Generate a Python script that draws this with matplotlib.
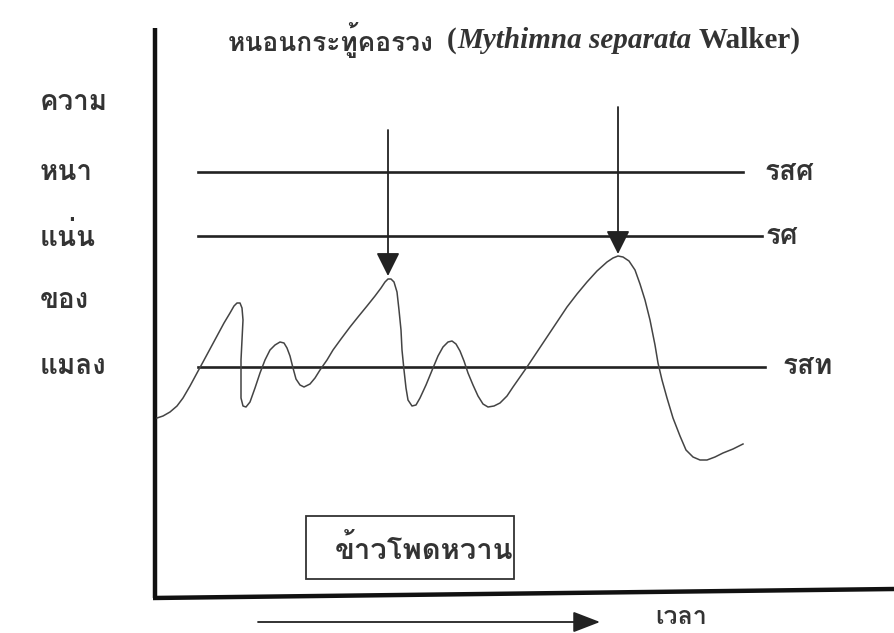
import matplotlib
matplotlib.use("Agg")
import matplotlib.pyplot as plt
from matplotlib import font_manager
from matplotlib.ft2font import FT2Font
from matplotlib.patches import Rectangle

# curve (pixel coords, y down)
curve_x = [157, 163, 170, 177, 183, 190, 197, 203, 210, 217, 224, 230, 234, 237, 240,
           242, 243, 242, 241, 241, 241, 243, 246, 250, 255, 260, 265, 270, 275, 280,
           284, 287, 290, 293, 296, 300, 304, 310, 315, 320, 327, 333, 341, 350, 358,
           367, 375, 381, 385, 388, 391, 394, 397, 399, 401, 402, 404, 406, 408, 412,
           416, 420, 426, 433, 438, 443, 448, 452, 456, 460, 464, 468, 473, 478, 483,
           488, 494, 500, 507, 513, 520, 527, 537, 547, 557, 567, 577, 587, 597, 607,
           613, 618, 623, 629, 635, 640, 645, 650, 655, 658, 662, 667, 673, 680, 686,
           693, 700, 707, 715, 723, 733, 743]
curve_y = [418, 416, 412, 406, 398, 386, 373, 362, 349, 336, 323, 313, 306, 303, 303,
           308, 320, 340, 360, 380, 398, 406, 407, 402, 388, 373, 360, 350, 345, 342,
           343, 348, 356, 368, 379, 385, 387, 384, 378, 370, 360, 350, 339, 327, 317,
           306, 296, 288, 282, 279, 279, 282, 292, 310, 330, 350, 370, 388, 400, 406,
           405, 398, 385, 368, 356, 347, 342, 341, 344, 351, 361, 373, 385, 396, 404,
           407, 406, 403, 396, 387, 377, 367, 352, 337, 322, 307, 294, 282, 271, 262,
           258, 256, 257, 261, 270, 284, 300, 320, 345, 363, 380, 398, 418, 436, 450,
           457, 460, 460, 457, 453, 449, 444]

# threshold lines: label, y level, x start, x end
levels = ["รสศ", "รศ", "รสท"]
level_y = [172, 236, 367]
level_x0 = [198, 198, 198]
level_x1 = [743, 762, 765]
label_x = [765, 766, 783]

# arrows pointing at the peaks: x, top, tip
arrow_x = [388, 618]
arrow_top = [130, 107]
arrow_tip = [276, 254]

ylabel_words = ["ความ", "หนา", "แน่น", "ของ", "แมลง"]
ylabel_y = [103, 172, 237, 300, 366]


def thai_font():
    for f in font_manager.fontManager.ttflist:
        try:
            if 0x0E01 in FT2Font(f.fname).get_charmap():
                return f.name
        except Exception:
            pass
    return "DejaVu Sans"


thai = thai_font()
plt.rcParams["font.family"] = [thai, "DejaVu Sans"]
ink = "#333333"

fig = plt.figure(figsize=(8.94, 6.33), dpi=100)
ax = fig.add_axes([0, 0, 1, 1])
ax.set_xlim(0, 894)
ax.set_ylim(633, 0)
ax.axis("off")

# axes drawn by hand (slightly tilted x axis like the scan)
ax.plot([155, 155], [28, 598], color="#111111", lw=3.2, solid_capstyle="butt")
ax.plot([153, 894], [598, 589], color="#111111", lw=3.2, solid_capstyle="butt")

for lab, y, x0, x1, lx in zip(levels, level_y, level_x0, level_x1, label_x):
    ax.plot([x0, x1], [y, y], color="#222222", lw=1.9)
    ax.text(lx, y, lab, fontsize=20, fontweight="bold", color=ink,
            ha="left", va="center")

ax.plot(curve_x, curve_y, color="#444444", lw=1.1)

for x, y0, y1 in zip(arrow_x, arrow_top, arrow_tip):
    ax.annotate("", xy=(x, y1), xytext=(x, y0),
                arrowprops=dict(arrowstyle="-|>,head_length=0.6,head_width=0.3",
                                mutation_scale=24, lw=1.3, color="#222222",
                                shrinkA=0, shrinkB=0))

for w, y in zip(ylabel_words, ylabel_y):
    ax.text(40, y, w, fontsize=20, fontweight="bold", color=ink,
            ha="left", va="center")

# title, pieces placed one after another
renderer = fig.canvas.get_renderer()
pieces = [("หนอนกระทู้คอรวง", dict(fontsize=19), 0),
          ("(", dict(fontsize=21, family="Liberation Serif"), 13),
          ("Mythimna separata", dict(fontsize=21, family="Liberation Serif",
                                     style="italic"), 1),
          ("Walker)", dict(fontsize=21, family="Liberation Serif"), 7)]
x = 228
for s, kw, gap in pieces:
    t = ax.text(x + gap, 40, s, fontweight="bold", color=ink, ha="left",
                va="center", **kw)
    bb = t.get_window_extent(renderer)
    x = x + gap + bb.width

# crop box
ax.add_patch(Rectangle((306, 516), 208, 63, fill=False, lw=1.3, edgecolor=ink))
ax.text(335, 550, "ข้าวโพดหวาน", fontsize=21, fontweight="bold", color=ink,
        ha="left", va="center")

# time arrow
ax.annotate("", xy=(600, 622), xytext=(258, 622),
            arrowprops=dict(arrowstyle="-|>,head_length=0.7,head_width=0.27",
                            mutation_scale=24, lw=1.3, color="#222222",
                            shrinkA=0, shrinkB=0))
ax.text(655, 617, "เวลา", fontsize=18, fontweight="bold", color=ink,
        ha="left", va="center")

fig.savefig("out.png", dpi=100)
